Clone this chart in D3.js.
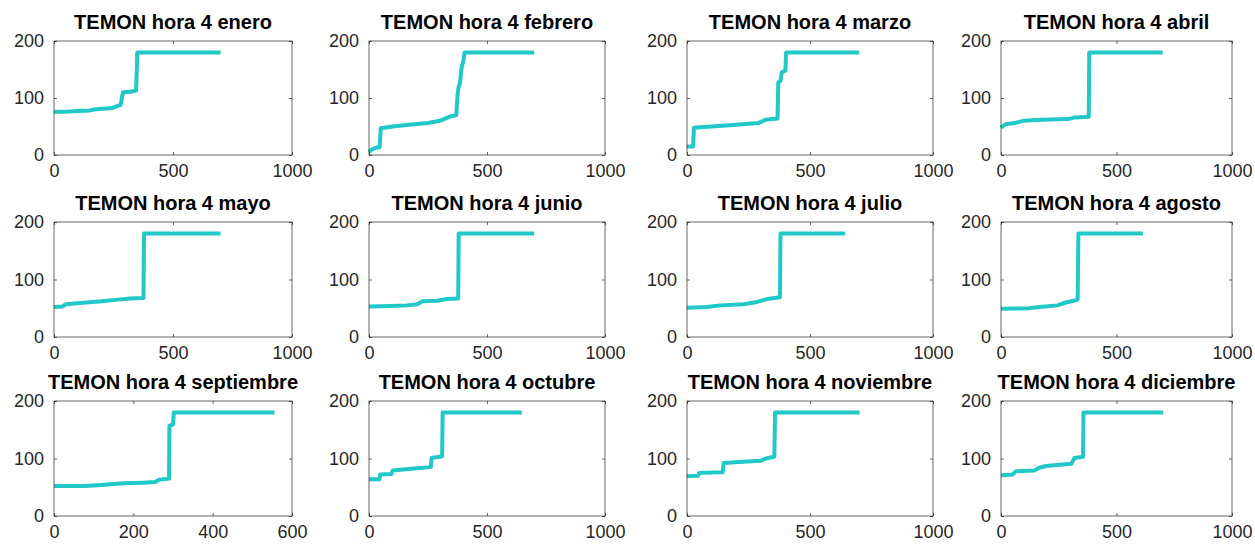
<!DOCTYPE html>
<html>
<head>
<meta charset="utf-8">
<script src="https://cdn.jsdelivr.net/npm/d3@7"></script>
<style>
  body { margin: 0; background: #fff; }
  svg { display: block; }
</style>
</head>
<body>
<div id="chart"></div>
<script>
// one panel per month
var months = ["enero", "febrero", "marzo", "abril", "mayo", "junio",
              "julio", "agosto", "septiembre", "octubre", "noviembre", "diciembre"]

var xValues = [
  [0, 50, 100, 150, 170, 200, 240, 260, 280, 285, 290, 320, 345, 350, 700],
  [0, 10, 25, 45, 50, 100, 170, 250, 300, 340, 370, 375, 380, 385, 393, 400, 405, 700],
  [0, 25, 28, 100, 200, 290, 320, 368, 371, 380, 385, 400, 403, 700],
  [0, 20, 60, 95, 170, 290, 320, 380, 382, 700],
  [0, 35, 50, 110, 200, 270, 320, 376, 378, 700],
  [0, 90, 160, 205, 225, 290, 330, 378, 380, 700],
  [0, 80, 135, 230, 285, 325, 378, 380, 642],
  [0, 120, 165, 245, 280, 325, 332, 335, 614],
  [0, 80, 120, 175, 225, 255, 265, 290, 291, 300, 302, 556],
  [0, 45, 47, 95, 100, 180, 262, 265, 310, 312, 647],
  [0, 45, 50, 145, 149, 210, 300, 320, 355, 358, 702],
  [0, 50, 65, 145, 165, 195, 255, 305, 318, 355, 357, 701]
]

var yValues = [
  [76, 76, 77, 78, 80, 81, 82, 85, 88, 100, 110, 111, 113, 180, 180],
  [5, 9, 12, 14, 47, 50, 53, 56, 60, 67, 70, 105, 120, 125, 155, 165, 180, 180],
  [15, 15, 48, 50, 53, 56, 62, 64, 127, 130, 145, 148, 180, 180],
  [48, 54, 56, 60, 62, 63, 66, 67, 180, 180],
  [52, 53, 57, 59, 62, 65, 67, 68, 180, 180],
  [53, 54, 55, 57, 62, 63, 66, 67, 180, 180],
  [51, 52, 55, 57, 61, 66, 69, 180, 180],
  [49, 50, 52, 55, 60, 64, 66, 180, 180],
  [52, 52, 54, 57, 58, 59, 63, 65, 157, 159, 180, 180],
  [64, 64, 72, 73, 79, 82, 85, 101, 104, 180, 180],
  [69, 70, 75, 76, 92, 94, 96, 100, 103, 180, 180],
  [71, 72, 78, 79, 84, 87, 89, 91, 101, 103, 180, 180]
]

var xMax = [1000, 1000, 1000, 1000, 1000, 1000, 1000, 1000, 600, 1000, 1000, 1000]
var xTicks = [
  [0, 500, 1000], [0, 500, 1000], [0, 500, 1000], [0, 500, 1000],
  [0, 500, 1000], [0, 500, 1000], [0, 500, 1000], [0, 500, 1000],
  [0, 200, 400, 600], [0, 500, 1000], [0, 500, 1000], [0, 500, 1000]
]
var yTicks = [0, 100, 200]

// axes boxes in the 4x3 grid
var colLeft = [54, 369, 687, 1001]
var colRight = [292, 605, 933, 1232]
var rowTop = [41, 222, 401]
var rowBottom = [155, 337, 516]

var width = 1255
var height = 544
var lineColor = "#20c8c8"
var axisColor = "#262626"
var fontFam = "'Liberation Sans', Arial, sans-serif"

var svg = d3.select("#chart").append("svg")
  .attr("width", width)
  .attr("height", height)
  .style("font-family", fontFam)

months.forEach(function(m, i) {
  var col = i % 4
  var row = Math.floor(i / 4)
  var w = colRight[col] - colLeft[col]
  var h = rowBottom[row] - rowTop[row]

  var g = svg.append("g")
    .attr("transform", "translate(" + colLeft[col] + "," + rowTop[row] + ")")

  var x = d3.scaleLinear().domain([0, xMax[i]]).range([0, w])
  var y = d3.scaleLinear().domain([0, 200]).range([h, 0])

  var pts = xValues[i].map(function(v, j) { return [v, yValues[i][j]] })

  var line = d3.line()
    .x(function(d) { return x(d[0]) })
    .y(function(d) { return y(d[1]) })

  g.append("path")
    .datum(pts)
    .attr("d", line)
    .attr("fill", "none")
    .attr("stroke", lineColor)
    .attr("stroke-width", 4)
    .attr("stroke-linejoin", "round")

  // bottom and left axes with inward ticks
  g.append("g")
    .attr("transform", "translate(0," + h + ")")
    .call(d3.axisBottom(x).tickValues(xTicks[i]).tickFormat(d3.format("d"))
      .tickSizeInner(-3).tickSizeOuter(0).tickPadding(9))
  g.append("g")
    .call(d3.axisLeft(y).tickValues(yTicks).tickFormat(d3.format("d"))
      .tickSizeInner(-3).tickSizeOuter(0).tickPadding(10))

  // mirrored ticks on top and right
  g.append("g")
    .call(d3.axisTop(x).tickValues(xTicks[i]).tickSizeInner(-3).tickSizeOuter(0).tickFormat(""))
  g.append("g")
    .attr("transform", "translate(" + w + ",0)")
    .call(d3.axisRight(y).tickValues(yTicks).tickSizeInner(-3).tickSizeOuter(0).tickFormat(""))

  g.selectAll(".domain").remove()
  g.selectAll(".tick line").attr("stroke", axisColor).attr("stroke-width", 0.7)
  g.selectAll(".tick text")
    .attr("fill", axisColor)
    .style("font-size", "18px")
    .style("font-family", fontFam)

  g.append("rect")
    .attr("width", w)
    .attr("height", h)
    .attr("fill", "none")
    .attr("stroke", axisColor)
    .attr("stroke-width", 0.7)

  g.append("text")
    .attr("x", w / 2)
    .attr("y", -12)
    .attr("text-anchor", "middle")
    .style("font-size", "20px")
    .style("font-weight", "bold")
    .attr("fill", "#000")
    .text("TEMON hora 4 " + m)
})
</script>
</body>
</html>
